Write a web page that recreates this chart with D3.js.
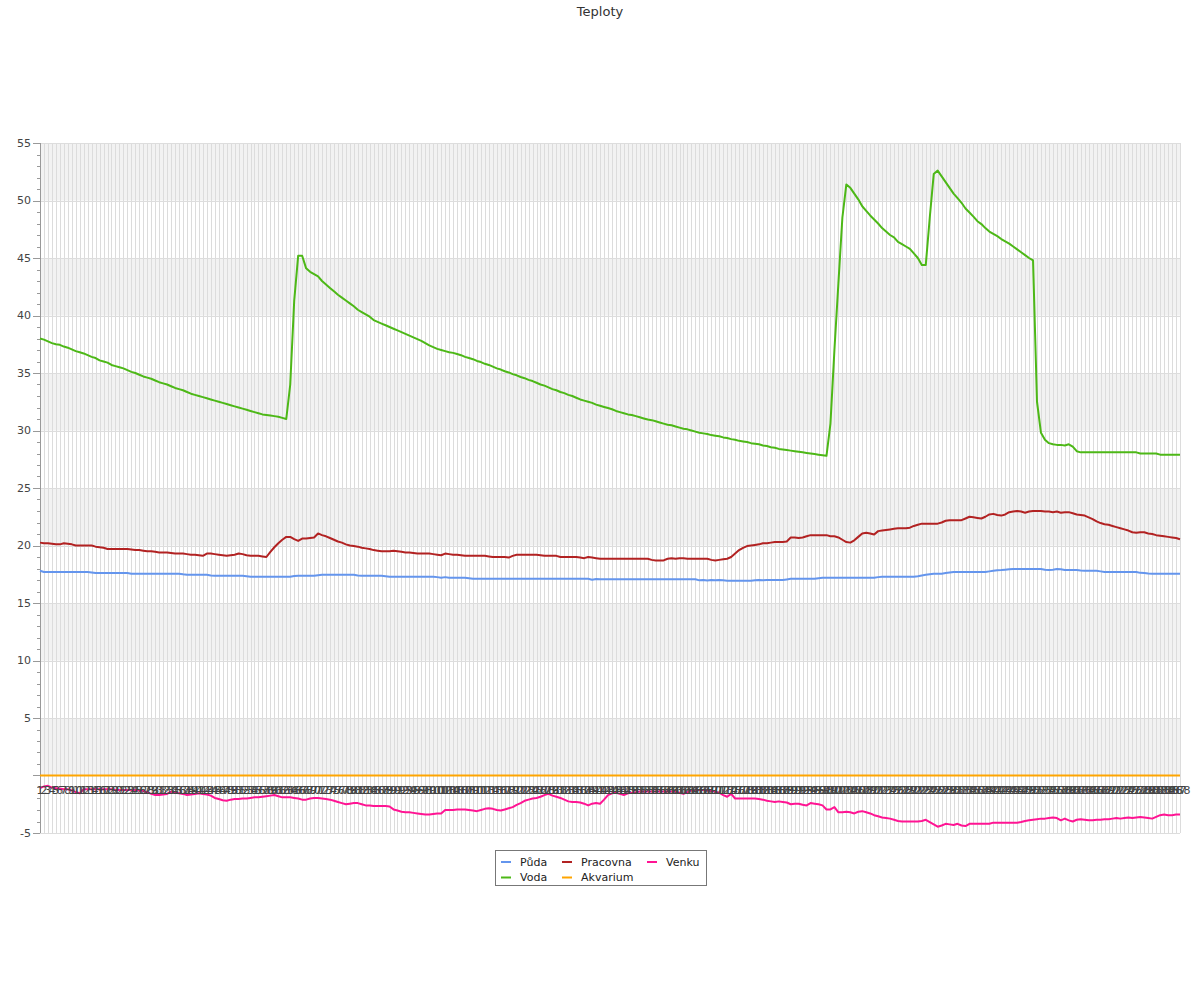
<!DOCTYPE html>
<html><head><meta charset="utf-8">
<script src="https://cdn.jsdelivr.net/npm/d3@7"></script>
<style>body{margin:0;background:#fff;} text{font-family:"DejaVu Sans",sans-serif;}</style>
</head><body><svg id="c" width="1200" height="1000"></svg>
<script>
const title = "Teploty";
const categories = d3.range(1, 289).map(String);
const yTickLabels = [-5, 5, 10, 15, 20, 25, 30, 35, 40, 45, 50, 55];
const seriesNames = ["Půda", "Voda", "Pracovna", "Akvarium", "Venku"];
const seriesColors = ["#6495ED", "#4DB817", "#B22222", "#FFA500", "#FF1493"];

const puda = [
17.8,17.7,17.7,17.7,17.7,17.7,17.7,17.7,17.7,17.7,
17.7,17.7,17.7,17.65,17.6,17.6,17.6,17.6,17.6,17.6,
17.6,17.6,17.6,17.55,17.55,17.55,17.55,17.55,17.55,17.55,
17.55,17.55,17.55,17.55,17.55,17.55,17.5,17.46,17.46,17.46,
17.46,17.46,17.46,17.4,17.37,17.37,17.37,17.37,17.37,17.37,
17.37,17.37,17.33,17.29,17.29,17.29,17.29,17.29,17.29,17.29,
17.29,17.29,17.29,17.29,17.35,17.37,17.37,17.37,17.37,17.37,
17.42,17.46,17.46,17.46,17.46,17.46,17.46,17.46,17.46,17.46,
17.4,17.37,17.37,17.37,17.37,17.37,17.37,17.33,17.29,17.29,
17.29,17.29,17.29,17.29,17.29,17.29,17.29,17.29,17.29,17.29,
17.25,17.2,17.25,17.2,17.2,17.2,17.2,17.2,17.15,17.1,
17.1,17.1,17.1,17.1,17.1,17.1,17.1,17.1,17.1,17.1,
17.1,17.1,17.1,17.1,17.1,17.1,17.1,17.1,17.1,17.1,
17.1,17.1,17.1,17.1,17.1,17.1,17.1,17.1,17.1,17.03,
17.08,17.06,17.06,17.06,17.06,17.06,17.06,17.06,17.06,17.06,
17.06,17.06,17.06,17.06,17.06,17.06,17.06,17.06,17.06,17.06,
17.06,17.06,17.06,17.06,17.06,17.06,16.97,17.0,16.95,17.0,
16.97,17.0,16.97,16.94,16.94,16.94,16.94,16.94,16.94,16.94,
16.97,17.0,16.97,17.0,17.0,17.0,17.0,17.0,17.05,17.1,
17.1,17.1,17.1,17.1,17.1,17.1,17.15,17.2,17.2,17.2,
17.2,17.2,17.2,17.2,17.2,17.2,17.2,17.2,17.2,17.2,
17.2,17.25,17.29,17.29,17.29,17.29,17.29,17.29,17.29,17.29,
17.29,17.33,17.4,17.45,17.5,17.55,17.55,17.55,17.6,17.65,
17.7,17.7,17.7,17.7,17.7,17.7,17.7,17.7,17.7,17.75,
17.8,17.85,17.87,17.9,17.93,17.96,17.96,17.96,17.96,17.96,
17.96,17.96,17.96,17.9,17.87,17.9,17.96,17.93,17.87,17.87,
17.87,17.87,17.83,17.8,17.8,17.8,17.8,17.75,17.7,17.7,
17.7,17.7,17.7,17.7,17.7,17.7,17.7,17.62,17.6,17.57,
17.55,17.55,17.55,17.55,17.55,17.55,17.55,17.55
];

const voda = [
38.0,37.9,37.75,37.6,37.5,37.45,37.3,37.2,37.05,36.9,
36.8,36.7,36.55,36.4,36.3,36.1,36.0,35.9,35.7,35.6,
35.5,35.4,35.25,35.1,35.0,34.85,34.7,34.6,34.5,34.35,
34.2,34.1,34.0,33.85,33.7,33.6,33.5,33.35,33.2,33.1,
33.0,32.9,32.8,32.7,32.6,32.5,32.4,32.3,32.2,32.1,
32.0,31.9,31.8,31.7,31.6,31.5,31.4,31.35,31.3,31.25,
31.2,31.1,31.0,34.0,41.3,45.2,45.2,44.1,43.8,43.6,
43.4,43.0,42.7,42.4,42.1,41.8,41.55,41.3,41.05,40.8,
40.5,40.3,40.1,39.9,39.6,39.45,39.3,39.15,39.0,38.85,
38.7,38.55,38.4,38.25,38.1,37.95,37.8,37.6,37.4,37.25,
37.1,37.0,36.9,36.8,36.75,36.65,36.55,36.4,36.3,36.2,
36.05,35.95,35.8,35.7,35.55,35.4,35.3,35.15,35.05,34.9,
34.8,34.65,34.55,34.4,34.3,34.15,34.0,33.9,33.75,33.6,
33.5,33.35,33.25,33.1,33.0,32.85,32.7,32.6,32.5,32.4,
32.25,32.15,32.05,31.95,31.85,31.7,31.6,31.5,31.4,31.35,
31.25,31.15,31.05,30.95,30.9,30.8,30.7,30.6,30.5,30.45,
30.35,30.25,30.15,30.1,30.0,29.9,29.8,29.75,29.7,29.6,
29.55,29.5,29.4,29.35,29.25,29.2,29.1,29.05,29.0,28.9,
28.85,28.8,28.7,28.65,28.55,28.5,28.4,28.35,28.3,28.25,
28.2,28.15,28.1,28.05,28.0,27.95,27.9,27.85,27.8,30.6,
37.0,42.8,48.5,51.4,51.1,50.6,50.1,49.5,49.1,48.7,
48.35,48.0,47.6,47.3,47.0,46.8,46.4,46.2,46.0,45.8,
45.4,45.0,44.4,44.4,48.5,52.3,52.6,52.1,51.6,51.1,
50.6,50.2,49.8,49.3,48.95,48.6,48.2,47.95,47.6,47.3,
47.1,46.9,46.65,46.45,46.25,46.0,45.75,45.5,45.25,45.0,
44.8,32.5,29.8,29.2,28.9,28.8,28.75,28.75,28.7,28.8,
28.6,28.2,28.1,28.1,28.1,28.1,28.1,28.1,28.1,28.1,
28.1,28.1,28.1,28.1,28.1,28.1,28.1,28.0,28.0,28.0,
28.0,28.0,27.9,27.9,27.9,27.9,27.9,27.9
];

const pracovna = [
20.25,20.2,20.2,20.15,20.1,20.1,20.2,20.15,20.1,20.0,
20.0,20.0,20.0,20.0,19.9,19.85,19.8,19.7,19.7,19.7,
19.7,19.7,19.7,19.65,19.6,19.6,19.55,19.5,19.5,19.45,
19.4,19.4,19.4,19.35,19.3,19.3,19.3,19.25,19.2,19.2,
19.15,19.1,19.3,19.3,19.25,19.2,19.15,19.1,19.15,19.2,
19.3,19.25,19.15,19.1,19.1,19.1,19.05,19.0,19.45,19.85,
20.2,20.5,20.75,20.75,20.55,20.4,20.6,20.6,20.65,20.7,
21.05,20.9,20.8,20.65,20.5,20.35,20.25,20.1,20.0,19.95,
19.9,19.8,19.75,19.7,19.6,19.55,19.5,19.5,19.5,19.55,
19.5,19.45,19.4,19.4,19.35,19.3,19.3,19.3,19.3,19.25,
19.2,19.15,19.3,19.25,19.2,19.2,19.15,19.1,19.1,19.1,
19.1,19.1,19.1,19.05,19.0,19.0,19.0,19.0,18.95,19.1,
19.2,19.2,19.2,19.2,19.2,19.2,19.15,19.1,19.1,19.1,
19.1,19.0,19.0,19.0,19.0,19.0,18.95,18.9,19.0,18.95,
18.9,18.85,18.85,18.85,18.85,18.85,18.85,18.85,18.85,18.85,
18.85,18.85,18.85,18.85,18.75,18.7,18.7,18.7,18.85,18.9,
18.85,18.9,18.9,18.85,18.85,18.85,18.85,18.85,18.85,18.75,
18.7,18.75,18.8,18.85,19.0,19.3,19.6,19.8,19.95,20.0,
20.05,20.1,20.2,20.2,20.25,20.3,20.3,20.3,20.35,20.7,
20.7,20.65,20.7,20.8,20.9,20.9,20.9,20.9,20.9,20.8,
20.8,20.7,20.5,20.3,20.25,20.45,20.75,21.05,21.1,21.05,
20.95,21.25,21.3,21.35,21.4,21.45,21.5,21.5,21.5,21.55,
21.7,21.8,21.9,21.9,21.9,21.9,21.9,22.0,22.15,22.2,
22.2,22.2,22.2,22.35,22.5,22.45,22.4,22.35,22.5,22.7,
22.75,22.65,22.6,22.7,22.9,22.95,23.0,22.95,22.85,22.95,
23.0,23.0,23.0,22.95,22.95,22.9,22.95,22.85,22.9,22.9,
22.8,22.7,22.65,22.6,22.45,22.3,22.1,21.95,21.85,21.8,
21.7,21.6,21.5,21.4,21.3,21.15,21.1,21.15,21.15,21.05,
21.0,20.9,20.85,20.8,20.75,20.7,20.65,20.55
];

const akvarium = [
0,0,0,0,0,0,0,0,0,0,0,0,0,0,0,0,0,0,0,0,0,0,0,0,
0,0,0,0,0,0,0,0,0,0,0,0,0,0,0,0,0,0,0,0,0,0,0,0,
0,0,0,0,0,0,0,0,0,0,0,0,0,0,0,0,0,0,0,0,0,0,0,0,
0,0,0,0,0,0,0,0,0,0,0,0,0,0,0,0,0,0,0,0,0,0,0,0,
0,0,0,0,0,0,0,0,0,0,0,0,0,0,0,0,0,0,0,0,0,0,0,0,
0,0,0,0,0,0,0,0,0,0,0,0,0,0,0,0,0,0,0,0,0,0,0,0,
0,0,0,0,0,0,0,0,0,0,0,0,0,0,0,0,0,0,0,0,0,0,0,0,
0,0,0,0,0,0,0,0,0,0,0,0,0,0,0,0,0,0,0,0,0,0,0,0,
0,0,0,0,0,0,0,0,0,0,0,0,0,0,0,0,0,0,0,0,0,0,0,0,
0,0,0,0,0,0,0,0,0,0,0,0,0,0,0,0,0,0,0,0,0,0,0,0,
0,0,0,0,0,0,0,0,0,0,0,0,0,0,0,0,0,0,0,0,0,0,0,0,
0,0,0,0,0,0,0,0,0,0,0,0,0,0,0,0,0,0,0,0,0,0,0,0
];

const venku = [
-1.1,-0.95,-0.9,-1.05,-1.1,-1.15,-1.2,-1.2,-1.3,-1.45,
-1.55,-1.2,-1.2,-1.2,-1.2,-1.2,-1.2,-1.2,-1.2,-1.25,
-1.25,-1.25,-1.25,-1.25,-1.25,-1.3,-1.35,-1.45,-1.6,-1.7,
-1.7,-1.65,-1.6,-1.4,-1.5,-1.55,-1.6,-1.7,-1.65,-1.6,
-1.55,-1.6,-1.65,-1.75,-1.95,-2.05,-2.15,-2.2,-2.1,-2.05,
-2.05,-2.0,-2.0,-1.95,-1.9,-1.9,-1.85,-1.8,-1.75,-1.7,
-1.8,-1.9,-1.9,-1.9,-1.95,-2.0,-2.1,-2.1,-2.0,-1.95,
-1.95,-2.0,-2.05,-2.1,-2.2,-2.3,-2.4,-2.5,-2.45,-2.4,
-2.4,-2.5,-2.6,-2.6,-2.65,-2.65,-2.65,-2.65,-2.7,-2.95,
-3.05,-3.15,-3.2,-3.2,-3.25,-3.3,-3.35,-3.4,-3.4,-3.35,
-3.3,-3.3,-3.0,-3.0,-3.0,-2.95,-2.95,-2.95,-3.0,-3.05,
-3.1,-3.0,-2.9,-2.85,-2.9,-3.0,-3.05,-2.95,-2.85,-2.75,
-2.55,-2.4,-2.2,-2.1,-2.0,-1.95,-1.85,-1.7,-1.6,-1.75,
-1.85,-1.95,-2.1,-2.25,-2.3,-2.3,-2.35,-2.45,-2.6,-2.45,
-2.4,-2.45,-2.1,-1.7,-1.55,-1.5,-1.6,-1.7,-1.55,-1.5,
-1.45,-1.4,-1.4,-1.4,-1.4,-1.4,-1.4,-1.4,-1.4,-1.4,
-1.4,-1.5,-1.6,-1.45,-1.3,-1.3,-1.25,-1.25,-1.3,-1.35,
-1.4,-1.5,-1.7,-1.85,-1.6,-2.0,-2.0,-2.0,-2.0,-2.0,
-2.0,-2.05,-2.1,-2.2,-2.25,-2.3,-2.25,-2.3,-2.35,-2.5,
-2.45,-2.45,-2.55,-2.6,-2.4,-2.45,-2.5,-2.6,-2.95,-2.95,
-2.75,-3.2,-3.2,-3.15,-3.2,-3.3,-3.15,-3.1,-3.2,-3.3,
-3.45,-3.55,-3.65,-3.7,-3.75,-3.85,-3.95,-4.0,-4.0,-4.0,
-4.0,-4.0,-3.95,-3.85,-4.05,-4.25,-4.45,-4.35,-4.2,-4.25,
-4.3,-4.2,-4.35,-4.4,-4.2,-4.2,-4.2,-4.2,-4.2,-4.2,
-4.1,-4.1,-4.1,-4.1,-4.1,-4.1,-4.1,-4.05,-3.95,-3.9,
-3.85,-3.8,-3.75,-3.75,-3.7,-3.65,-3.7,-3.9,-3.75,-3.9,
-4.0,-3.85,-3.8,-3.85,-3.9,-3.9,-3.85,-3.85,-3.8,-3.8,
-3.75,-3.7,-3.75,-3.7,-3.65,-3.7,-3.65,-3.6,-3.65,-3.7,
-3.75,-3.6,-3.45,-3.4,-3.45,-3.45,-3.4,-3.4
];

const seriesValues = [puda, voda, pracovna, akvarium, venku];

const svg = d3.select("#c");
const x = d3.scalePoint().domain(categories).range([40, 1180]);
const y = d3.scaleLinear().domain([-5, 55]).range([833, 143]);

// title
svg.append("text").attr("x", 600).attr("y", 16).attr("text-anchor", "middle")
  .attr("font-size", 13).attr("fill", "#333").text(title);

// alternating bands
const bandStarts = d3.range(0, 55, 10);
svg.append("g").selectAll("rect").data(bandStarts).join("rect")
  .attr("x", x.range()[0]).attr("width", x.range()[1] - x.range()[0])
  .attr("y", d => y(d + 5)).attr("height", d => y(d) - y(d + 5))
  .attr("fill", "#f2f2f2");

// vertical grid lines
svg.append("g").selectAll("line").data(categories).join("line")
  .attr("x1", d => Math.round(x(d)) + 0.5).attr("x2", d => Math.round(x(d)) + 0.5)
  .attr("y1", y(55)).attr("y2", y(-5))
  .attr("stroke", "#dcdcdc").attr("stroke-width", 1);

// horizontal grid lines
svg.append("g").selectAll("line").data(d3.range(-5, 56, 5)).join("line")
  .attr("x1", 40).attr("x2", 1180)
  .attr("y1", d => Math.round(y(d)) + 0.5).attr("y2", d => Math.round(y(d)) + 0.5)
  .attr("stroke", "#dddddd");

// y axis
const ya = svg.append("g");
ya.append("line").attr("x1", 40.5).attr("x2", 40.5).attr("y1", y(55)).attr("y2", y(-5)).attr("stroke", "#999");
ya.selectAll("line.minor").data(d3.range(-5, 56, 1)).join("line").attr("class", "minor")
  .attr("x1", d => d % 5 === 0 ? 33 : 37).attr("x2", 40)
  .attr("y1", d => Math.round(y(d)) + 0.5).attr("y2", d => Math.round(y(d)) + 0.5)
  .attr("stroke", "#999");
ya.selectAll("text").data(yTickLabels).join("text")
  .attr("x", 31).attr("y", d => y(d)).attr("dy", "0.35em")
  .attr("text-anchor", "end").attr("font-size", 11).attr("fill", "#444").text(d => d);

// x axis line
svg.append("line").attr("x1", 40).attr("x2", 1180).attr("y1", Math.round(y(0)) + 0.5).attr("y2", Math.round(y(0)) + 0.5)
  .attr("stroke", "#888");

// series lines
const line = d3.line().x((d, i) => x(categories[i])).y(d => y(d));
seriesValues.forEach((vals, k) => {
  svg.append("path").datum(vals).attr("d", line)
    .attr("fill", "none").attr("stroke", seriesColors[k]).attr("stroke-width", 2)
    .attr("stroke-linejoin", "round");
});

// x labels
svg.append("g").selectAll("text").data(categories).join("text")
  .attr("x", d => x(d)).attr("y", y(0) + 18).attr("text-anchor", "middle")
  .attr("font-size", 11).attr("fill", "#444").text(d => d);

// legend
const lg = svg.append("g");
lg.append("rect").attr("x", 495.5).attr("y", 850.5).attr("width", 211).attr("height", 35)
  .attr("fill", "#fff").attr("stroke", "#777");
const colX = [501, 562, 647];
const rowY = [862, 877.5];
seriesNames.forEach((name, k) => {
  const cx = colX[Math.floor(k / 2)], cy = rowY[k % 2];
  lg.append("line").attr("x1", cx).attr("x2", cx + 10).attr("y1", cy).attr("y2", cy)
    .attr("stroke", seriesColors[k]).attr("stroke-width", 2);
  lg.append("text").attr("x", cx + 19).attr("y", cy + 3.5).attr("font-size", 11)
    .attr("fill", "#222").text(name);
});
</script>
</body></html>
